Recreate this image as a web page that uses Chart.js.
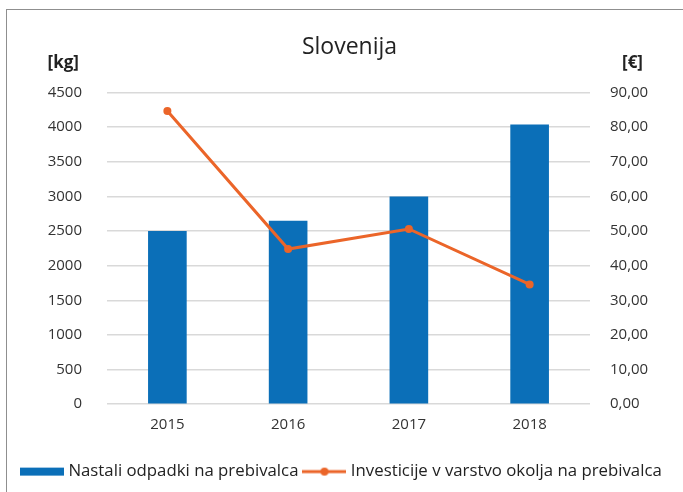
<!DOCTYPE html>
<html>
<head>
<meta charset="utf-8">
<script src="https://cdn.jsdelivr.net/npm/chart.js@4"></script>
<style>
    body { margin: 0; background: #fff; }
    #wrap { position: relative; width: 683px; height: 492px; overflow: hidden; }
    #frame { position: absolute; left: 6px; top: 9px; width: 720px; height: 520px; border: 1.5px solid #8f8f8f; }
    #chart { position: absolute; left: 0; top: 0; }
</style>
</head>
<body>
<div id="wrap">
    <div id="frame"></div>
    <canvas id="chart" width="683" height="492"></canvas>
</div>
<script>
// Slovenija - waste and environmental investment per inhabitant
const years = ['2015', '2016', '2017', '2018'];
const odpadki = [2500, 2650, 3000, 4040];       // [kg]
const investicije = [84.7, 44.8, 50.6, 34.6];   // [€]

const kgTicks = { min: 0, max: 4500, step: 500 };
const euroTicks = { min: 0, max: 90, step: 10 };

const BLUE = '#0B6FB8';
const ORANGE = '#EB6529';
const FONT = '"Open Sans"';
const TEXT = '#333333';

// small canvas swatches used as legend symbols
function swatch(kind, color) {
    const c = document.createElement('canvas');
    c.width = 44;
    c.height = 12;
    const g = c.getContext('2d');
    if (kind === 'bar') {
        g.fillStyle = color;
        g.fillRect(0, 2, 44, 8);
    } else {
        g.strokeStyle = color;
        g.lineWidth = 3;
        g.beginPath();
        g.moveTo(0, 6);
        g.lineTo(44, 6);
        g.stroke();
        g.fillStyle = color;
        g.beginPath();
        g.arc(22, 6, 4, 0, Math.PI * 2);
        g.fill();
    }
    return c;
}

// [kg] and [€] over the two value axes
const unitLabels = {
    id: 'unitLabels',
    afterDraw(chart) {
        const { ctx, scales } = chart;
        ctx.save();
        ctx.font = 'bold 17px ' + FONT;
        ctx.fillStyle = '#222';
        ctx.textBaseline = 'middle';
        ctx.textAlign = 'right';
        ctx.fillText('[kg]', scales.y.right - 28, scales.y.top - 29);
        ctx.textAlign = 'left';
        ctx.fillText('[€]', scales.y1.left + 32, scales.y1.top - 29);
        ctx.restore();
    }
};

const swatches = [swatch('bar', BLUE), swatch('line', ORANGE)];

new Chart(document.getElementById('chart'), {
    data: {
        labels: years,
        datasets: [{
            type: 'bar',
            label: 'Nastali odpadki na prebivalca',
            data: odpadki,
            backgroundColor: BLUE,
            yAxisID: 'y',
            barPercentage: 0.32,
            categoryPercentage: 1,
            order: 2
        }, {
            type: 'line',
            label: 'Investicije v varstvo okolja na prebivalca',
            data: investicije,
            borderColor: ORANGE,
            backgroundColor: ORANGE,
            borderWidth: 3,
            pointRadius: 4,
            pointBackgroundColor: ORANGE,
            pointBorderWidth: 0,
            tension: 0,
            yAxisID: 'y1',
            order: 1
        }]
    },
    options: {
        responsive: false,
        animation: false,
        layout: { padding: { left: 16, right: 0, top: 0, bottom: 2 } },
        plugins: {
            title: {
                display: true,
                text: 'Slovenija',
                color: '#222',
                font: { family: FONT, size: 23, weight: 'normal' },
                padding: { top: 34, bottom: 31 }
            },
            legend: {
                position: 'bottom',
                align: 'start',
                labels: {
                    usePointStyle: true,
                    pointStyleWidth: 36,
                    padding: 8,
                    color: '#222',
                    font: { family: FONT, size: 16.8 },
                    generateLabels(chart) {
                        const items = Chart.defaults.plugins.legend.labels.generateLabels(chart);
                        items.sort((a, b) => a.datasetIndex - b.datasetIndex);
                        items.forEach(it => { it.pointStyle = swatches[it.datasetIndex]; });
                        return items;
                    }
                }
            },
            tooltip: { enabled: false }
        },
        scales: {
            x: {
                grid: { display: false, drawTicks: false },
                border: { display: false },
                ticks: { color: TEXT, padding: 12, font: { family: FONT, size: 15 } },
                afterFit(scale) { scale.height = 51; }
            },
            y: {
                position: 'left',
                min: kgTicks.min,
                max: kgTicks.max,
                grid: { color: '#d9d9d9', lineWidth: 1.5, drawTicks: false },
                border: { display: false },
                ticks: {
                    stepSize: kgTicks.step,
                    color: TEXT,
                    padding: 25,
                    font: { family: FONT, size: 15 },
                    callback: v => String(v)
                },
                afterFit(scale) { scale.width = 91; }
            },
            y1: {
                position: 'right',
                min: euroTicks.min,
                max: euroTicks.max,
                grid: { display: false, drawTicks: false },
                border: { display: false },
                ticks: {
                    stepSize: euroTicks.step,
                    color: TEXT,
                    padding: 20,
                    font: { family: FONT, size: 15 },
                    callback: v => v.toFixed(2).replace('.', ',')
                },
                afterFit(scale) { scale.width = 93; }
            }
        }
    },
    plugins: [unitLabels]
});
</script>
</body>
</html>
